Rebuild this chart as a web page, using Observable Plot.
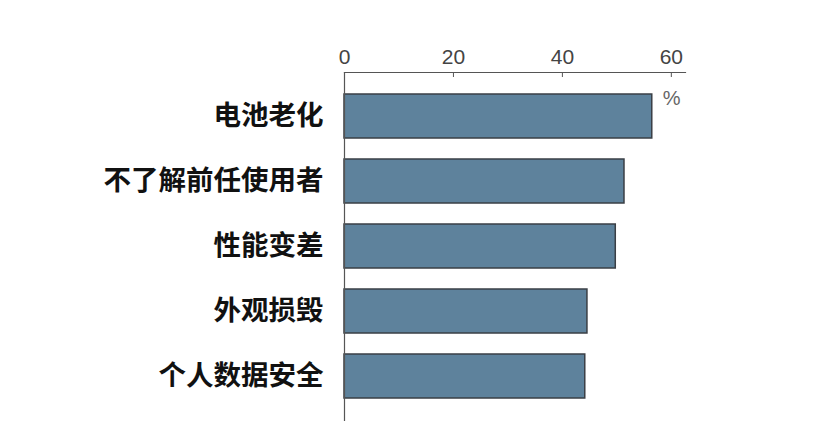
<!DOCTYPE html>
<html>
<head>
<meta charset="utf-8">
<script src="https://cdn.jsdelivr.net/npm/d3@7"></script>
<script src="https://cdn.jsdelivr.net/npm/@observablehq/plot@0.6"></script>
<style>
  html, body { margin: 0; padding: 0; background: #fff; }
</style>
</head>
<body>
<div id="chart"></div>
<script>
const categories = ["电池老化", "不了解前任使用者", "性能变差", "外观损毁", "个人数据安全"];
const values = [56.5, 51.4, 49.8, 44.6, 44.2];
const xTicks = [0, 20, 40, 60];
const unitLabel = "%";

const data = categories.map((c, i) => ({ category: c, value: values[i] }));

const chart = Plot.plot({
  width: 830,
  height: 440,
  marginTop: 72,
  marginBottom: 20,
  marginLeft: 344,
  marginRight: 145,
  style: { background: "#fff", overflow: "visible" },
  x: { domain: [0, 62.6] },
  y: { domain: categories, padding: 0.33 },
  marks: [
    Plot.barX(data, {
      x: "value",
      y: "category",
      fill: "#5e829c",
      stroke: "#3a3f45",
      strokeWidth: 1.5
    }),
    Plot.frame({ anchor: "top", stroke: "#555", strokeWidth: 1.2 }),
    Plot.frame({ anchor: "left", stroke: "#555", strokeWidth: 1.2 }),
    Plot.axisX({
      anchor: "top",
      ticks: xTicks,
      tickSize: -4,
      tickPadding: 13,
      stroke: "#555",
      label: null,
      fontSize: 21,
      fontFamily: "Liberation Sans Narrow, Liberation Sans, sans-serif",
      fill: "#444"
    }),
    Plot.axisY({
      anchor: "left",
      tickSize: 0,
      tickPadding: 21,
      label: null,
      fontSize: 27.5,
      fontWeight: "bold",
      fontFamily: "Noto Sans CJK SC, sans-serif",
      fill: "#111"
    }),
    Plot.text([unitLabel], {
      frameAnchor: "top-right",
      dx: -5,
      dy: 18,
      fontSize: 20,
      fill: "#666",
      fontFamily: "Liberation Sans, sans-serif"
    })
  ]
});

document.getElementById("chart").appendChild(chart);
</script>
</body>
</html>
